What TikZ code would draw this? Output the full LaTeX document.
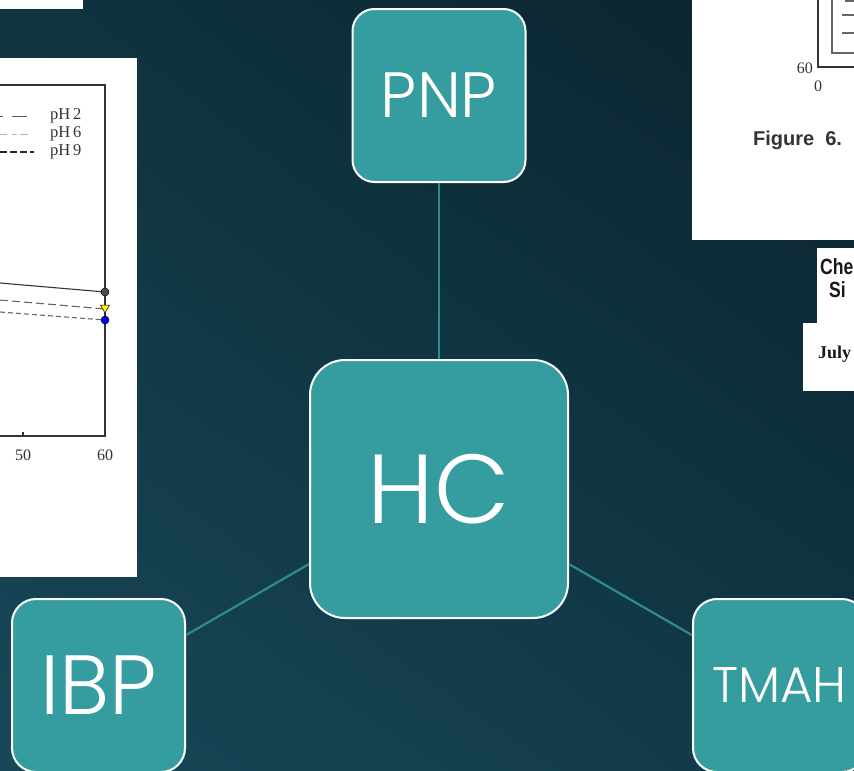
\documentclass[tikz,border=0pt]{standalone}
\usetikzlibrary{shadings}
\usepackage{fontspec}
\setmainfont{Liberation Serif}
\newfontfamily\popl{Poppins Light}
\newfontfamily\lsans{Liberation Sans}
\definecolor{boxc}{HTML}{359C9F}
\definecolor{connc}{HTML}{2C8C8E}
\definecolor{bgul}{HTML}{0F3441}
\definecolor{bgur}{HTML}{0A222C}
\definecolor{bgll}{HTML}{184858}
\definecolor{bglr}{HTML}{113846}
\definecolor{axc}{HTML}{333333}
\begin{document}
\begin{tikzpicture}[x=1pt,y=-1pt,
  box/.style={draw=white, line width=2pt, fill=boxc, rounded corners=#1, inner sep=0pt, text=white},
  conn/.style={draw=connc, line width=2.2pt},
  axisline/.style={draw=axc, line width=1.2pt},
  panel/.style={fill=white},
  lbl/.style={inner sep=0pt, text=axc}]
\useasboundingbox (0,0) rectangle (854,771);
\clip (0,0) rectangle (854,771);
% background
\shade[upper left=bgul, upper right=bgur, lower left=bgll, lower right=bglr] (0pt,0pt) rectangle (854pt,-771pt);
% top-left white strip
\fill[panel] (0,0) rectangle (83,9);
% left graph panel
\fill[panel] (0,58) rectangle (137,577);
\draw[axisline] (0,85) -- (105,85) -- (105,436) -- (0,436);
\draw[axisline] (23,436) -- (23,432);
\node[lbl, font=\fontsize{16}{16}\selectfont] (l50) at (23,455) {50};
\node[lbl, font=\fontsize{16}{16}\selectfont] (l60) at (105,455) {60};
% legend
\draw[draw=gray!70!black, line width=1pt] (0,116) -- (3,116) (12,116) -- (27,116);
\draw[draw=gray!60, line width=1pt] (0,134) -- (7,134) (12,134) -- (17,134) (20,134) -- (28,134);
\draw[draw=black!85, line width=1.2pt, dash pattern=on 7pt off 3pt] (0,152) -- (34,152);
\node[lbl, anchor=west, font=\fontsize{16.5}{16.5}\selectfont] (lg2) at (50,116) {pH\,2};
\node[lbl, anchor=west, font=\fontsize{16.5}{16.5}\selectfont] (lg6) at (50,134) {pH\,6};
\node[lbl, anchor=west, font=\fontsize{16.5}{16.5}\selectfont] (lg9) at (50,152) {pH\,9};
% data lines
\draw[draw=axc, line width=1.1pt] (0,283) -- (105,292);
\draw[draw=gray!80!black, line width=1.1pt, dash pattern=on 8pt off 4pt] (0,300) -- (105,309);
\draw[draw=gray!80!black, line width=1.1pt, dash pattern=on 5pt off 3pt] (0,312) -- (105,320);
\fill[fill=gray!60!black, draw=black, line width=0.5pt] (105,292) circle (4pt);
\fill[fill=yellow, draw=black, line width=0.5pt] (100.5,305) -- (109.5,305) -- (105,313) -- cycle;
\fill[fill=blue, draw=black, line width=0.5pt] (105,320) circle (4pt);
% right graph panel
\fill[panel] (692,0) rectangle (854,240);
\draw[axisline] (818,0) -- (818,67) -- (854,67);
\draw[draw=gray!80!black, line width=1.1pt] (832,0) -- (832,53) -- (854,53);
\draw[draw=gray!80!black, line width=1.4pt] (842,15) -- (854,15) (842,33) -- (854,33) (845,1) -- (854,1);
\node[lbl, anchor=east, text=black!80, font=\fontsize{16}{16}\selectfont] (r60) at (813,68) {60};
\node[lbl, text=black!80, font=\fontsize{16}{16}\selectfont] (r0) at (818,86) {0};
\node[lbl, anchor=west, text=black!80, font=\lsans\bfseries\fontsize{20}{20}\selectfont] (fig) at (753,140) {Figure\hspace{11pt}6.};
% small clipped panels
\fill[panel] (817,248) rectangle (854,323);
\fill[panel] (803,323) rectangle (854,391);
\node[lbl, anchor=west, text=black!90, font=\lsans\bfseries\fontsize{22}{22}\selectfont, xscale=0.8] (che) at (820,267) {Che};
\node[lbl, anchor=west, text=black!90, font=\lsans\bfseries\fontsize{22}{22}\selectfont, xscale=0.8] (si) at (829,290) {Si};
\node[lbl, anchor=west, text=black!90, font=\bfseries\fontsize{18}{18}\selectfont] (july) at (818,354) {July};
% boxes
\node[box=22pt, minimum width=173pt, minimum height=173pt, font=\popl\fontsize{64}{64}\selectfont] (pnp) at (439,95.5) {PNP};
\node[box=35pt, minimum width=258pt, minimum height=258pt, font=\popl\fontsize{98}{98}\selectfont] (hc) at (439,489) {HC};
\node[box=24pt, minimum width=173pt, minimum height=173pt, font=\popl\fontsize{84}{84}\selectfont] (ibp) at (98.5,685.5) {IBP};
\node[box=24pt, minimum width=173pt, minimum height=173pt, font=\popl\fontsize{50}{50}\selectfont] (tmah) at (779.5,685.5) {TMAH};
% connectors
\draw[conn] (pnp) -- (hc);
\draw[conn] (hc) -- (ibp);
\draw[conn] (hc) -- (tmah);
\end{tikzpicture}
\end{document}
